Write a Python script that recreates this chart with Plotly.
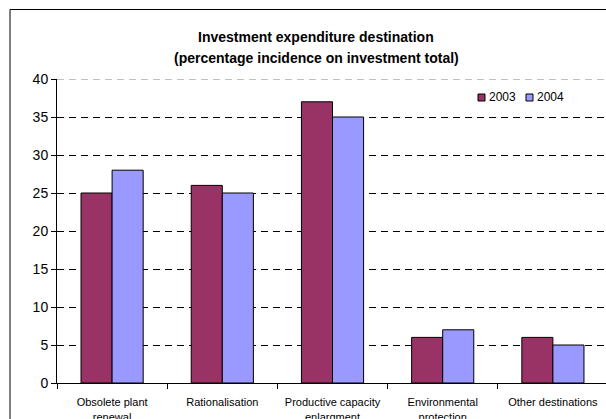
import plotly.graph_objects as go

categories = ["Obsolete plant<br>renewal", "Rationalisation", "Productive capacity<br>enlargment",
              "Environmental<br>protection", "Other destinations"]
values_2003 = [25, 26, 37, 6, 6]
values_2004 = [28, 25, 35, 7, 5]
series_names = ["2003", "2004"]
series_colors = ["#993366", "#9999FF"]
y_ticks = [0, 5, 10, 15, 20, 25, 30, 35, 40]

W, H = 606, 419
ML, MR, MT, MB = 57, 0, 79, 36
PW, PH = W - ML - MR, H - MT - MB

def px_x(x):
    return (x - ML) / PW

def px_y(y):
    return (H - MB - y) / PH

fig = go.Figure()
for name, vals, col in zip(series_names, [values_2003, values_2004], series_colors):
    fig.add_trace(go.Bar(x=categories, y=vals, name=name, showlegend=False,
                         marker=dict(color=col, line=dict(color="black", width=1))))

font_family = "Liberation Sans, Arial, sans-serif"

fig.update_layout(
    width=W, height=H,
    margin=dict(l=ML, r=MR, t=MT, b=MB, autoexpand=False),
    paper_bgcolor="white", plot_bgcolor="white",
    barmode="group", bargap=0.436, bargroupgap=0,
    font=dict(family=font_family, color="black"),
    showlegend=False,
    xaxis=dict(range=[-0.5, 4.5 - 2 / 110], showline=True, linecolor="black", linewidth=1,
               ticks="outside", ticklen=5, tickcolor="black", tickson="boundaries",
               tickfont=dict(size=11, family=font_family), showgrid=False,
               ticklabelstandoff=9, automargin=False),
    yaxis=dict(range=[0, 40], tickvals=y_ticks, showline=True, linecolor="black", linewidth=1,
               ticks="outside", ticklen=5, tickcolor="black",
               tickfont=dict(size=14, family=font_family),
               showgrid=True, gridcolor="black", gridwidth=1, griddash="7px,5px",
               zeroline=False, automargin=False),
)

# top gridline at 40 (grey dashed)
fig.add_shape(type="line", xref="paper", yref="y", x0=0, x1=1, y0=y_ticks[-1], y1=y_ticks[-1],
              line=dict(color="#808080", width=1, dash="7px,5px"))

# outer chart frame (left and top edges; right and bottom lie outside the picture)
fig.add_shape(type="line", xref="paper", yref="paper",
              x0=px_x(10), x1=px_x(10), y0=px_y(H), y1=px_y(9.5),
              line=dict(color="black", width=1), layer="above")
fig.add_shape(type="line", xref="paper", yref="paper",
              x0=px_x(10), x1=px_x(W), y0=px_y(9.5), y1=px_y(9.5),
              line=dict(color="black", width=1), layer="above")

# legend drawn as squares + text
legend_items = [(478, series_names[0], series_colors[0]), (526, series_names[1], series_colors[1])]
for lx, name, col in legend_items:
    fig.add_shape(type="rect", xref="paper", yref="paper",
                  x0=px_x(lx), x1=px_x(lx + 7), y0=px_y(101), y1=px_y(94),
                  line=dict(color="black", width=1), fillcolor=col)
    fig.add_annotation(text=name, xref="paper", yref="paper", x=px_x(lx + 9), y=px_y(97.5),
                       showarrow=False, xanchor="left", yanchor="middle",
                       font=dict(size=12, family=font_family))

fig.add_annotation(text="<b>Investment expenditure destination</b>", xref="paper", yref="paper",
                   x=px_x(316), y=px_y(37.5), showarrow=False, xanchor="center", yanchor="middle",
                   font=dict(size=14, family=font_family))
fig.add_annotation(text="<b>(percentage incidence on investment total)</b>", xref="paper", yref="paper",
                   x=px_x(316), y=px_y(58), showarrow=False, xanchor="center", yanchor="middle",
                   font=dict(size=14, family=font_family))

fig.write_html("out.html", config={"displayModeBar": False},
               post_script="document.body.style.margin='0px';document.body.style.overflow='hidden';"
                           "document.documentElement.style.overflow='hidden';")
